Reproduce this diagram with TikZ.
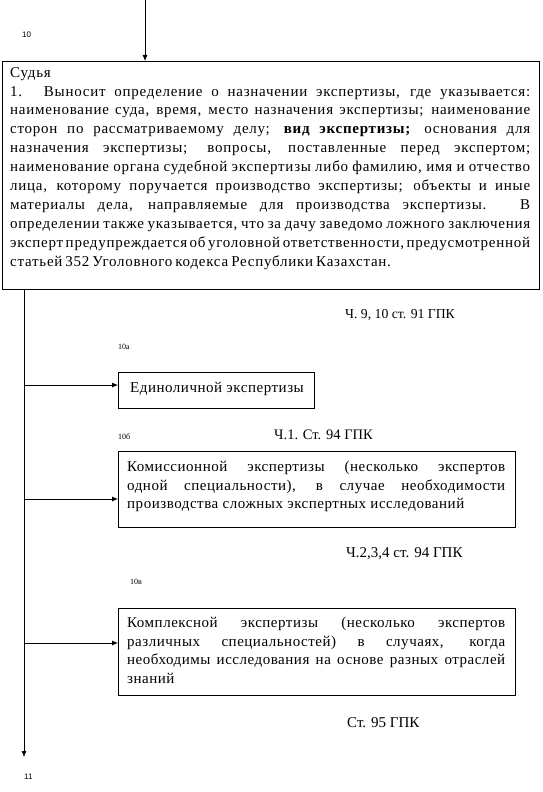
\documentclass[tikz,border=0pt]{standalone}
\usepackage{fontspec}
\setmainfont{Liberation Serif}
\newfontfamily\mainfnt[LetterSpace=5]{Liberation Serif}
\newfontfamily\boxfnt[LetterSpace=3.5]{Liberation Serif}
\newfontfamily\lsans{Liberation Sans}
\newcommand\myspacing{\spaceskip=0.2em plus 5em minus 0.05em\relax}
\usetikzlibrary{arrows.meta}
\begin{document}
\begin{tikzpicture}[x=1pt,y=-1pt,
  arr/.style={-{Latex[length=6pt,width=5pt]}, line width=0.8pt},
  box/.style={draw, line width=0.8pt, anchor=north west, inner sep=0pt},
  txt/.style={anchor=north west, inner sep=0pt, align=justify, font=\mainfnt\fontsize{15}{18.9}\selectfont},
  btxt/.style={anchor=north west, inner sep=0pt, align=justify, font=\boxfnt\fontsize{15}{18.5}\selectfont},
  num/.style={font=\fontsize{8}{9}\selectfont, anchor=west, inner sep=0pt},
  refl/.style={font=\fontsize{15}{17}\selectfont, anchor=west, inner sep=0pt}]
\useasboundingbox (0,0) rectangle (542,792);
\tolerance=10000 \emergencystretch=0pt
% main box
\node[box, minimum width=537pt, minimum height=228pt] (main) at (2,61) {};
\node[txt, text width=520pt] (maintext) at (10,67) {\myspacing Судья\\
1. Выносит определение о назначении экспертизы, где указывается: \linebreak
наименование суда, время, место назначения экспертизы; наименование \linebreak
сторон по рассматриваемому делу; \textbf{вид экспертизы;} основания для \linebreak
назначения экспертизы; вопросы, поставленные перед экспертом; \linebreak
наименование органа судебной экспертизы либо фамилию, имя и отчество \linebreak
лица, которому поручается производство экспертизы; объекты и иные \linebreak
материалы дела, направляемые для производства экспертизы. В \linebreak
определении также указывается, что за дачу заведомо ложного заключения \linebreak
эксперт предупреждается об уголовной ответственности, предусмотренной \linebreak
статьей 352 Уголовного кодекса Республики Казахстан.};
% labels
\node[num, font=\lsans\fontsize{8}{9}\selectfont] (n10) at (22,35) {10};
\node[num, font=\lsans\fontsize{8}{9}\selectfont] (n11) at (24,777) {11};
\node[num] (n10a) at (118,347) {10а};
\node[num] (n10b) at (118,437) {10б};
\node[num] (n10v) at (130,582) {10в};
\node[refl, font=\fontsize{13.7}{15}\selectfont] (r1) at (345,315) {Ч. 9, 10 ст. 91 ГПК};
\node[refl, font=\fontsize{14.5}{16}\selectfont] (r2) at (274,435) {Ч.1. Ст. 94 ГПК};
\node[refl] (r3) at (346,554) {Ч.2,3,4 ст. 94 ГПК};
\node[refl] (r4) at (347,723) {Ст. 95 ГПК};
% boxes
\node[box, minimum width=196pt, minimum height=36pt] (b1) at (118,372) {};
\node[btxt, anchor=west] (t1) at (130,389) {Единоличной экспертизы};
\node[box, minimum width=397pt, minimum height=76pt] (b2) at (118,451) {};
\node[btxt, text width=378pt] (t2) at (127,461) {Комиссионной экспертизы (несколько экспертов \linebreak
одной специальности), в случае необходимости \linebreak
производства сложных экспертных исследований};
\node[box, minimum width=397pt, minimum height=87pt] (b3) at (118,608) {};
\node[btxt, text width=378pt] (t3) at (127,617) {Комплексной экспертизы (несколько экспертов \linebreak
различных специальностей) в случаях, когда \linebreak
необходимы исследования на основе разных отраслей \linebreak
знаний};
% connectors
\coordinate (top) at (145,0);
\draw[arr] (top) -- (top |- main.north);
\coordinate (ls) at (24,289);
\coordinate (le) at (24,757);
\draw[arr] (ls) -- (le);
\coordinate (a1) at (118,385);
\coordinate (a2) at (118,499);
\coordinate (a3) at (118,643);
\draw[arr] (ls |- a1) -- (a1);
\draw[arr] (ls |- a2) -- (a2);
\draw[arr] (ls |- a3) -- (a3);
\end{tikzpicture}
\end{document}
